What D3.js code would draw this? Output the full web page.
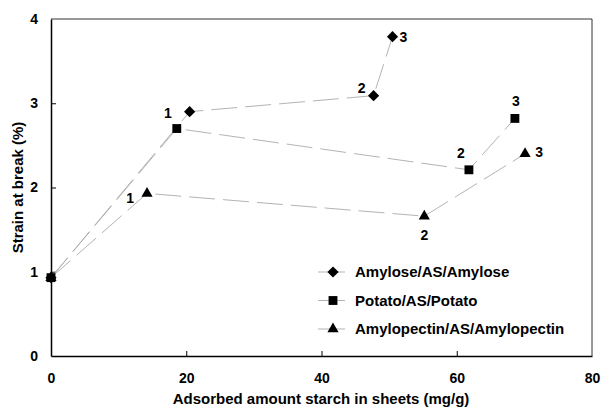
<!DOCTYPE html>
<html>
<head>
<meta charset="utf-8">
<script src="https://cdn.jsdelivr.net/npm/d3@7"></script>
<style>
    body { margin: 0; background: #fff; }
    text { font-family: "Liberation Sans", Arial, sans-serif; font-weight: bold; fill: #000; }
</style>
</head>
<body>
<div id="chart"></div>
<script>
// data
var seriesNames = ["Amylose/AS/Amylose", "Potato/AS/Potato", "Amylopectin/AS/Amylopectin"];
var amyloseX = [0, 20.5, 47.7, 50.5];
var amyloseY = [0.93, 2.9, 3.09, 3.79];
var potatoX = [0, 18.6, 61.8, 68.6];
var potatoY = [0.93, 2.7, 2.21, 2.82];
var pectinX = [0, 14.2, 55.2, 70.1];
var pectinY = [0.93, 1.93, 1.66, 2.4];
// point labels (the "1" near 20 mg/g is shared by diamond and square)
var amyloseLabels = ["", "", "2", "3"];
var potatoLabels = ["", "1", "2", "3"];
var pectinLabels = ["", "1", "2", "3"];
var xTicks = [0, 20, 40, 60, 80];
var yTicks = [0, 1, 2, 3, 4];

var width = 602,
    height = 413,
    padding = {top: 19, right: 10, bottom: 57, left: 51};

var svg = d3.select("#chart")
    .append("svg")
    .attr("width", width)
    .attr("height", height);

var xScale = d3.scaleLinear()
    .domain([0, 80])
    .range([padding.left, width - padding.right]);
var yScale = d3.scaleLinear()
    .domain([0, 4])
    .range([height - padding.bottom, padding.top]);

// frame: top / right
svg.append("path")
    .attr("d", "M" + xScale(0) + "," + yScale(4) + "H" + xScale(80) + "V" + yScale(0))
    .attr("fill", "none")
    .attr("stroke", "#333")
    .attr("stroke-width", 1);

// x axis, ticks inward
var xAxis = d3.axisBottom(xScale)
    .tickValues(xTicks)
    .tickSize(0)
    .tickPadding(0)
    .tickFormat(d3.format("d"));
var gx = svg.append("g")
    .attr("transform", "translate(0," + yScale(0) + ")")
    .call(xAxis);
gx.select(".domain").attr("stroke", "#000").attr("stroke-width", 1.5);
gx.selectAll(".tick line")
    .attr("y2", function(d) { return (d > 0 && d < 80) ? -5 : 0; })
    .attr("stroke", "#000");
gx.selectAll("text")
    .attr("y", 22)
    .attr("dy", "0.35em")
    .attr("font-size", "14px")
    .attr("font-family", null);

// y axis, ticks inward
var yAxis = d3.axisLeft(yScale)
    .tickValues(yTicks)
    .tickSize(0)
    .tickPadding(0)
    .tickFormat(d3.format("d"));
var gy = svg.append("g")
    .attr("transform", "translate(" + xScale(0) + ",0)")
    .call(yAxis);
gy.select(".domain").attr("stroke", "#000").attr("stroke-width", 1.5);
gy.selectAll(".tick line")
    .attr("x2", function(d) { return (d > 0 && d < 4) ? 5 : 0; })
    .attr("stroke", "#000");
gy.selectAll("text")
    .attr("x", -13)
    .attr("font-size", "14px")
    .attr("font-family", null);

// axis titles
svg.append("text")
    .attr("x", 321)
    .attr("y", 404)
    .attr("text-anchor", "middle")
    .attr("font-size", "15px")
    .text("Adsorbed amount starch in sheets (mg/g)");

svg.append("text")
    .attr("transform", "translate(18," + ((yScale(0) + yScale(4)) / 2) + ") rotate(-90)")
    .attr("text-anchor", "middle")
    .attr("dy", "0.35em")
    .attr("font-size", "15px")
    .text("Strain at break (%)");

// markers
var symbols = [d3.symbolDiamond2, d3.symbolSquare2, d3.symbolTriangle2];
var symbolSizes = [80, 100, 90];
function marker(g, i) {
    g.append("path")
        .attr("d", d3.symbol().type(symbols[i]).size(symbolSizes[i])())
        .attr("fill", "#000");
}

var series = [
    {xs: amyloseX, ys: amyloseY, labels: amyloseLabels,
     offsets: [[0, 0], [0, 0], [-12, -8], [11, 0]]},
    {xs: potatoX, ys: potatoY, labels: potatoLabels,
     offsets: [[0, 0], [-9, -15], [-8, -17], [1, -17]]},
    {xs: pectinX, ys: pectinY, labels: pectinLabels,
     offsets: [[0, 0], [-17, 5], [0, 19], [14, -2]]}
];

var line = d3.line()
    .x(function(d) { return xScale(d[0]); })
    .y(function(d) { return yScale(d[1]); });

series.forEach(function(s, i) {
    var pts = d3.zip(s.xs, s.ys);
    svg.append("path")
        .datum(pts)
        .attr("d", line)
        .attr("fill", "none")
        .attr("stroke", "#aaa")
        .attr("stroke-width", 0.9)
        .attr("stroke-dasharray", "26,8");
});

series.forEach(function(s, i) {
    var pts = d3.zip(s.xs, s.ys);
    pts.forEach(function(p, j) {
        var g = svg.append("g")
            .attr("transform", "translate(" + xScale(p[0]) + "," + yScale(p[1]) + ")");
        marker(g, i);
        if (s.labels[j]) {
            g.append("text")
                .attr("x", s.offsets[j][0])
                .attr("y", s.offsets[j][1])
                .attr("text-anchor", "middle")
                .attr("dy", "0.35em")
                .attr("font-size", "14px")
                .text(s.labels[j]);
        }
    });
});

// legend
var legend = svg.append("g")
    .attr("transform", "translate(318,272)");
seriesNames.forEach(function(name, i) {
    var row = legend.append("g")
        .attr("transform", "translate(0," + (i * 28.5) + ")");
    row.append("line")
        .attr("x1", 0)
        .attr("x2", 27)
        .attr("stroke", "#aaa")
        .attr("stroke-width", 0.9);
    var m = row.append("g").attr("transform", "translate(15,0)");
    marker(m, i);
    row.append("text")
        .attr("x", 37)
        .attr("dy", "0.35em")
        .attr("font-size", "15px")
        .text(name);
});
</script>
</body>
</html>
